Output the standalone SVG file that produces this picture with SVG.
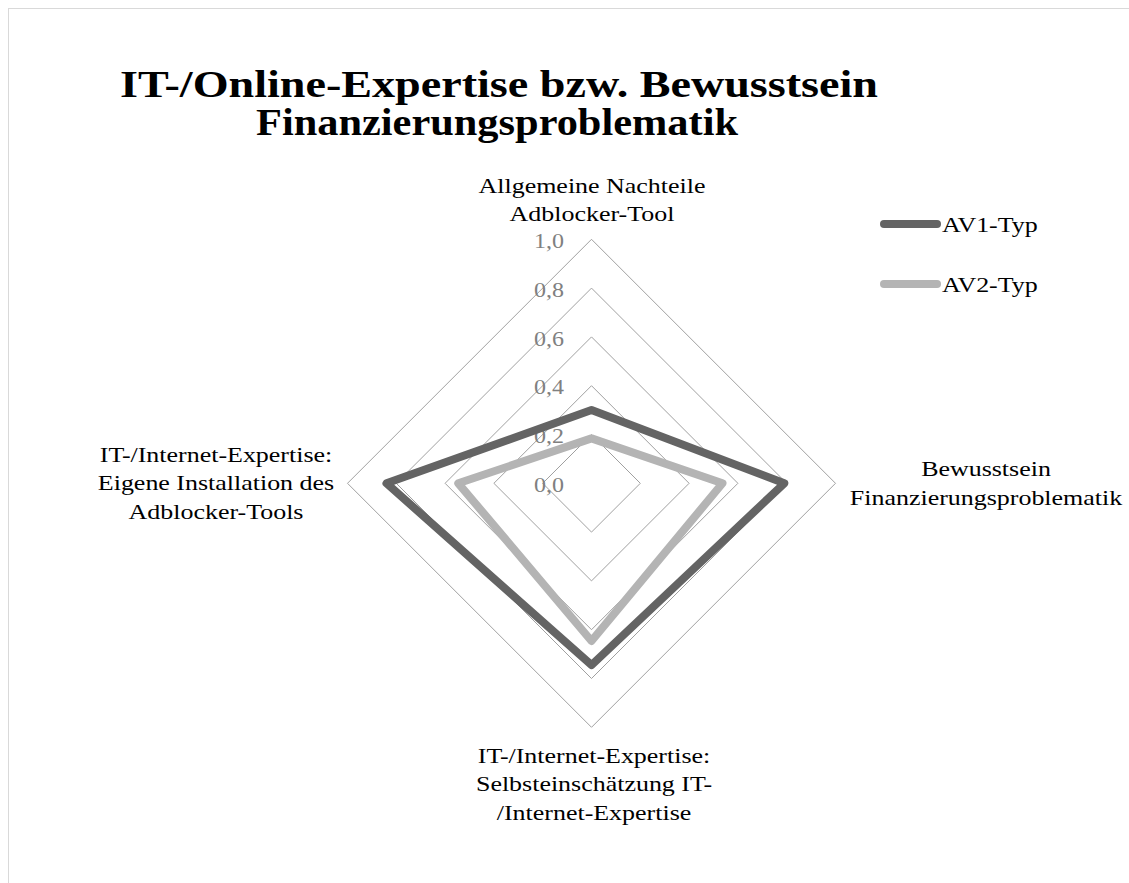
<svg xmlns="http://www.w3.org/2000/svg" width="1129" height="883" viewBox="0 0 1129 883">
  <style>
    .frame { fill: #ffffff; stroke: #d9d9d9; stroke-width: 1; }
    .grid { fill: none; stroke: #a0a0a0; stroke-width: 1; }
    .s1 { fill: none; stroke: #646464; stroke-width: 8; stroke-linejoin: round; stroke-linecap: round; }
    .s2 { fill: none; stroke: #b4b4b4; stroke-width: 8; stroke-linejoin: round; stroke-linecap: round; }
    .title { font-family: "Liberation Serif", "Times New Roman", serif; font-weight: bold; font-size: 38px; fill: #000000; text-anchor: middle; }
    .lbl { font-family: "Liberation Serif", "Times New Roman", serif; font-size: 22px; fill: #000000; text-anchor: middle; }
    .leg { font-family: "Liberation Serif", "Times New Roman", serif; font-size: 22px; fill: #000000; }
    .tick { font-family: "Liberation Serif", "Times New Roman", serif; font-size: 20px; fill: #808080; text-anchor: end; }
  </style>

  <rect x="0" y="0" width="1129" height="883" fill="#ffffff"/>
  <rect class="frame" x="8.5" y="8.5" width="1130" height="890"/>

  <!-- title -->
  <g id="title">
    <text class="title" x="499" y="97" textLength="758" lengthAdjust="spacingAndGlyphs">IT-/Online-Expertise bzw. Bewusstsein</text>
    <text class="title" x="497" y="135" textLength="482" lengthAdjust="spacingAndGlyphs">Finanzierungsproblematik</text>
  </g>

  <!-- radar grid: rings at 0.2 .. 1.0, centre (591.5,483.3), r = 244 -->
  <g id="grid">
    <polygon class="grid" points="591.5,434.5 640.3,483.3 591.5,532.1 542.7,483.3"/>
    <polygon class="grid" points="591.5,385.7 689.1,483.3 591.5,580.9 493.9,483.3"/>
    <polygon class="grid" points="591.5,336.9 737.9,483.3 591.5,629.7 445.1,483.3"/>
    <polygon class="grid" points="591.5,288.1 786.7,483.3 591.5,678.5 396.3,483.3"/>
    <polygon class="grid" points="591.5,239.3 835.5,483.3 591.5,727.3 347.5,483.3"/>
  </g>

  <!-- scale labels -->
  <g id="ticks">
    <g transform="translate(564 0) scale(1.2 1)">
      <text class="tick" x="0" y="492">0,0</text>
      <text class="tick" x="0" y="443">0,2</text>
      <text class="tick" x="0" y="394">0,4</text>
      <text class="tick" x="0" y="346">0,6</text>
      <text class="tick" x="0" y="297">0,8</text>
      <text class="tick" x="0" y="248">1,0</text>
    </g>
  </g>

  <!-- data series -->
  <g id="series">
    <polygon id="av2" class="s2" points="591.5,438.4 722.5,483.3 591.5,641 458.3,483.3"/>
    <polygon id="av1" class="s1" points="591.5,410.1 784.3,483.3 591.5,665.1 386.5,483.3"/>
  </g>

  <!-- axis labels -->
  <g id="axis-top">
    <g transform="translate(592 0) scale(1.18 1)">
      <text class="lbl" x="0" y="193">Allgemeine Nachteile</text>
      <text class="lbl" x="0" y="221">Adblocker-Tool</text>
    </g>
  </g>
  <g id="axis-right">
    <g transform="translate(986 0) scale(1.18 1)">
      <text class="lbl" x="0" y="476">Bewusstsein</text>
      <text class="lbl" x="0" y="505">Finanzierungsproblematik</text>
    </g>
  </g>
  <g id="axis-bottom">
    <g transform="translate(594 0) scale(1.18 1)">
      <text class="lbl" x="0" y="763">IT-/Internet-Expertise:</text>
      <text class="lbl" x="0" y="791">Selbsteinschätzung IT-</text>
      <text class="lbl" x="0" y="820">/Internet-Expertise</text>
    </g>
  </g>
  <g id="axis-left">
    <g transform="translate(216 0) scale(1.18 1)">
      <text class="lbl" x="0" y="462">IT-/Internet-Expertise:</text>
      <text class="lbl" x="0" y="490">Eigene Installation des</text>
      <text class="lbl" x="0" y="519">Adblocker-Tools</text>
    </g>
  </g>

  <!-- legend -->
  <g id="legend">
    <line class="s1" x1="884" y1="224" x2="937" y2="224"/>
    <line class="s2" x1="884" y1="284" x2="937" y2="284"/>
    <g transform="translate(942 0) scale(1.18 1)">
      <text class="leg" x="0" y="232">AV1-Typ</text>
      <text class="leg" x="0" y="292">AV2-Typ</text>
    </g>
  </g>
</svg>
